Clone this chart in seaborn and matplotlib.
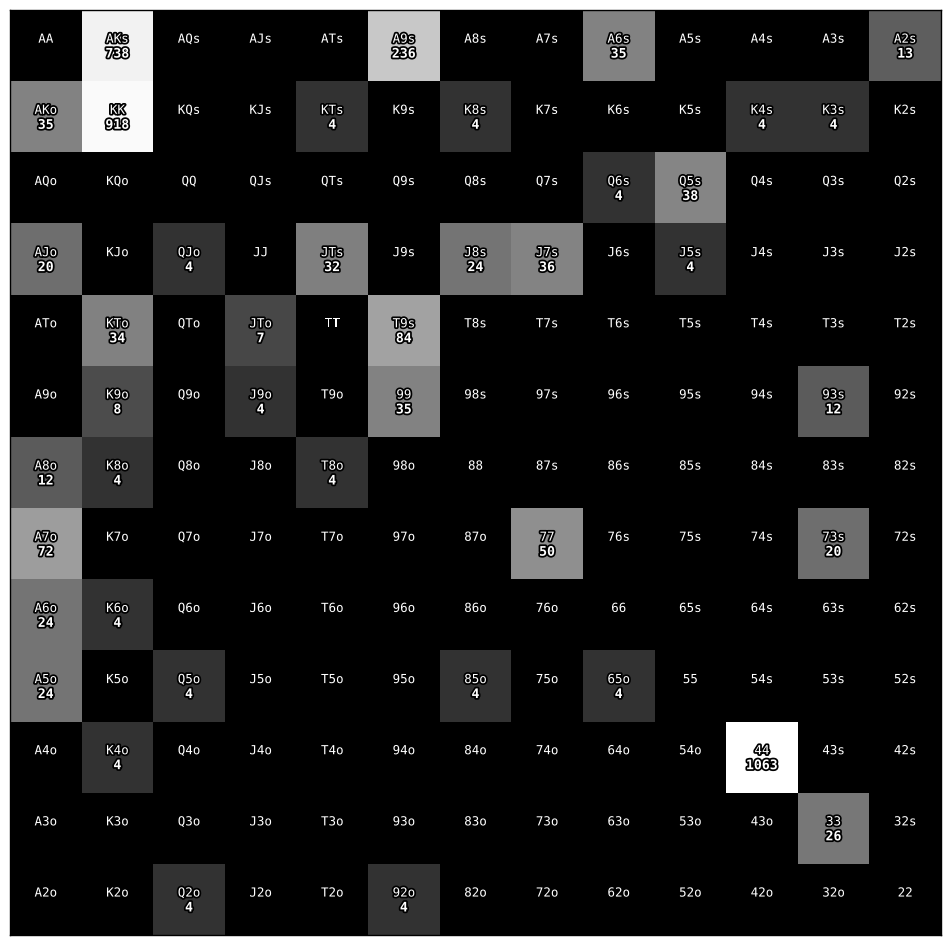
import matplotlib
matplotlib.use("Agg")
import matplotlib.pyplot as plt
import matplotlib.patheffects as pe
import numpy as np
import pandas as pd
import seaborn as sns

ranks = ["A", "K", "Q", "J", "T", "9", "8", "7", "6", "5", "4", "3", "2"]

# hand counts, keyed by hand name (all others are zero)
hand_names = ["AKs", "A9s", "A6s", "A2s",
              "AKo", "KK", "KTs", "K8s", "K4s", "K3s",
              "Q6s", "Q5s",
              "AJo", "QJo", "JTs", "J8s", "J7s", "J5s",
              "KTo", "JTo", "T9s",
              "K9o", "J9o", "99", "93s",
              "A8o", "K8o", "T8o",
              "A7o", "77", "73s",
              "A6o", "K6o",
              "A5o", "Q5o", "85o", "65o",
              "K4o", "44",
              "33",
              "Q2o", "92o"]
hand_counts = [738, 236, 35, 13,
               35, 918, 4, 4, 4, 4,
               4, 38,
               20, 4, 32, 24, 36, 4,
               34, 7, 84,
               8, 4, 35, 12,
               12, 4, 4,
               72, 50, 20,
               24, 4,
               24, 4, 4, 4,
               4, 1063,
               26,
               4, 4]


def hand_label(i, j):
    if i == j:
        return ranks[i] + ranks[j]
    if j > i:
        return ranks[i] + ranks[j] + "s"
    return ranks[j] + ranks[i] + "o"


counts = dict(zip(hand_names, hand_counts))
labels = [[hand_label(i, j) for j in range(13)] for i in range(13)]
grid = pd.DataFrame([[counts.get(labels[i][j], 0) for j in range(13)] for i in range(13)],
                    index=ranks, columns=ranks)

# log shading, empty hands drawn black
shade = np.log(grid.where(grid > 0, 1))

fig = plt.figure(figsize=(9.5, 9.44), dpi=100)
ax = fig.add_axes([0.0105, 0.0095, 0.98, 0.9799])
sns.heatmap(shade, cmap="gray", vmin=0, vmax=shade.values.max(),
            cbar=False, xticklabels=False, yticklabels=False, ax=ax)

stroke = [pe.withStroke(linewidth=2.5, foreground="black")]
for i in range(13):
    for j in range(13):
        n = grid.iat[i, j]
        ax.text(j + 0.5, i + 0.41, labels[i][j], ha="center", va="center",
                color="white", fontsize=9, family="DejaVu Sans Mono", path_effects=stroke)
        if n > 0:
            ax.text(j + 0.5, i + 0.62, str(n), ha="center", va="center",
                    color="white", fontsize=9.5, fontweight="bold",
                    family="DejaVu Sans Mono", path_effects=stroke)

for s in ax.spines.values():
    s.set_visible(True)
    s.set_color("black")
    s.set_linewidth(1)

fig.savefig("out.png", dpi=100)
